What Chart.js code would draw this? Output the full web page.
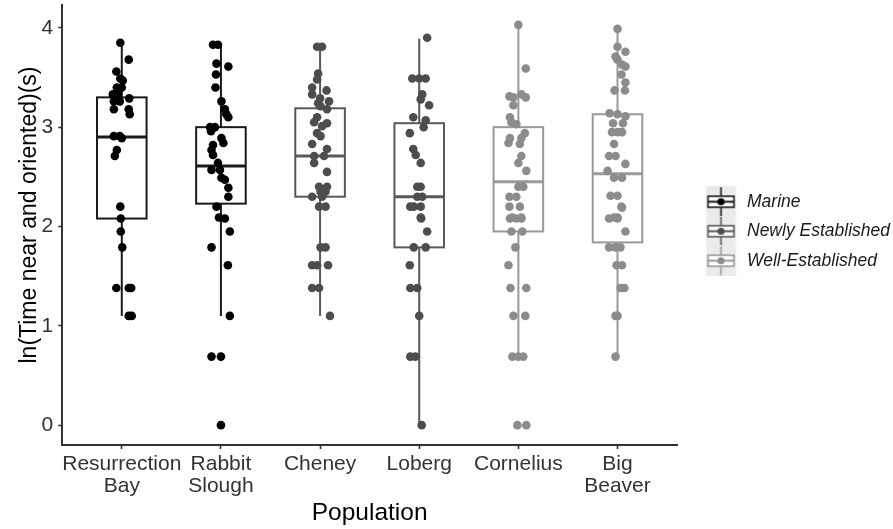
<!DOCTYPE html>
<html>
<head>
<meta charset="utf-8">
<script src="https://cdn.jsdelivr.net/npm/chart.js@4/dist/chart.umd.min.js"></script>
<style>
html,body{margin:0;padding:0;background:#fff;}
#wrap{width:893px;height:529px;}
</style>
</head>
<body>
<div id="wrap"><canvas id="c" width="893" height="529"></canvas></div>
<script>
// ---- data ----
const categories = ['Resurrection Bay', 'Rabbit Slough', 'Cheney', 'Loberg', 'Cornelius', 'Big Beaver'];
const groups = ['Marine', 'Marine', 'Newly Established', 'Newly Established', 'Well-Established', 'Well-Established'];
const groupNames = ['Marine', 'Newly Established', 'Well-Established'];
const yTicks = [0, 1, 2, 3, 4];
const yTitle = 'ln(Time near and oriented)(s)';
const xTitle = 'Population';

// box statistics
const q1 = [2.08, 2.23, 2.30, 1.79, 1.95, 1.84];
const median = [2.90, 2.61, 2.71, 2.30, 2.45, 2.53];
const q3 = [3.30, 3.00, 3.19, 3.04, 3.00, 3.13];
const whiskerLow = [1.10, 1.10, 1.10, 0.00, 0.69, 0.69];
const whiskerHigh = [3.85, 3.83, 3.81, 3.89, 4.03, 3.99];

// individual observations per population
const rbValues = [3.85,3.68,3.56,3.49,3.47,3.40,3.40,3.33,3.33,3.29,3.26,3.26,3.18,3.18,3.13,2.91,2.91,2.89,2.77,2.71,2.20,2.08,1.95,1.79,1.38,1.38,1.38,1.10,1.10];
const rsValues = [3.83,3.83,3.64,3.61,3.53,3.40,3.26,3.18,3.13,3.10,3.00,3.00,2.96,2.89,2.84,2.82,2.77,2.72,2.64,2.57,2.57,2.49,2.47,2.39,2.30,2.20,2.09,2.08,1.95,1.79,1.61,1.10,0.69,0.69,0];
const chValues = [3.81,3.81,3.54,3.48,3.40,3.37,3.33,3.29,3.26,3.24,3.21,3.18,3.10,3.05,3.04,3.01,2.94,2.91,2.83,2.78,2.71,2.71,2.64,2.55,2.40,2.40,2.35,2.35,2.30,2.30,2.20,2.20,1.79,1.79,1.61,1.61,1.61,1.38,1.38,1.10];
const loValues = [3.90,3.49,3.49,3.49,3.33,3.28,3.22,3.10,3.07,3.00,2.94,2.78,2.72,2.64,2.40,2.40,2.30,2.30,2.20,2.20,2.20,2.09,2.08,1.95,1.79,1.79,1.61,1.38,1.38,1.10,0.69,0.69,0];
const coValues = [4.03,3.59,3.31,3.30,3.33,3.30,3.22,3.10,3.05,3.03,2.94,2.89,2.89,2.84,2.83,2.71,2.64,2.56,2.40,2.40,2.30,2.30,2.20,2.20,2.09,2.09,2.08,2.08,2.08,1.95,1.95,1.79,1.61,1.38,1.38,1.10,1.10,0.69,0.69,0.69,0,0];
const bbValues = [3.99,3.81,3.76,3.71,3.68,3.63,3.61,3.53,3.45,3.37,3.37,3.14,3.13,3.11,3.04,3.04,2.95,2.95,2.95,2.83,2.71,2.71,2.63,2.56,2.49,2.49,2.31,2.31,2.19,2.09,2.09,2.20,2.08,2.08,1.95,1.79,1.79,1.79,1.61,1.61,1.38,1.38,1.10,1.10,0.69];

// horizontal jitter offsets (category units)
const rbJitter = [-0.015,0.07,-0.055,-0.015,0.01,-0.05,0.0,-0.09,-0.04,0.075,-0.08,-0.02,-0.08,0.07,0.08,-0.08,-0.02,0.0,-0.05,-0.07,-0.015,-0.01,-0.01,0.005,-0.055,0.07,0.095,0.07,0.1];
const rsJitter = [-0.08,-0.03,-0.045,0.075,-0.05,-0.055,0.005,0.04,0.055,0.075,-0.11,-0.06,-0.10,0.005,0.025,-0.08,-0.095,-0.08,-0.03,-0.095,-0.01,0.005,0.04,0.075,0.075,-0.045,-0.02,0.04,0.09,-0.095,0.07,0.09,-0.095,0.0,0.0];
const chJitter = [-0.03,0.02,-0.02,-0.03,-0.08,0.065,-0.08,0.0,0.09,-0.02,0.005,0.07,-0.03,-0.06,0.07,0.02,-0.03,0.005,-0.08,0.07,-0.06,0.04,-0.06,0.07,-0.01,0.07,0.005,0.055,-0.08,0.02,-0.01,0.055,0.005,0.055,-0.08,-0.03,0.08,-0.08,-0.01,0.1];
const loJitter = [0.08,-0.07,0.0,0.065,0.03,0.015,0.1,-0.06,0.065,0.045,-0.095,-0.06,-0.035,0.015,-0.02,0.015,-0.02,0.03,-0.09,-0.055,0.015,0.015,0.02,0.08,-0.055,0.065,-0.095,-0.09,-0.02,0.0,-0.09,-0.04,0.025];
const coJitter = [0.0,0.075,-0.09,-0.05,0.03,0.075,-0.05,-0.085,-0.07,-0.02,0.065,0.03,-0.085,-0.1,0.015,0.03,0.0,0.08,0.0,0.05,-0.09,-0.02,-0.09,0.015,-0.06,0.03,-0.085,-0.02,0.03,-0.07,0.04,-0.03,-0.1,-0.08,0.08,-0.05,0.07,-0.06,0.0,0.05,-0.01,0.08];
const bbJitter = [0.0,0.0,0.08,-0.02,0.0,0.045,0.08,0.04,0.08,-0.03,0.075,-0.08,0.0,0.08,-0.045,0.055,-0.055,0.0,0.045,-0.035,-0.085,-0.02,0.08,-0.1,-0.035,0.045,-0.07,0.0,0.045,-0.035,0.0,0.04,-0.085,0.0,0.08,-0.085,-0.02,0.03,-0.01,0.045,0.03,0.07,-0.02,0.0,-0.02];

const allValues = [rbValues, rsValues, chValues, loValues, coValues, bbValues];
const allJitter = [rbJitter, rsJitter, chJitter, loJitter, coJitter, bbJitter];

// ---- styles ----
const FONT = "'Liberation Sans', Arial, Helvetica, sans-serif";
const pointColors = {'Marine': '#000000', 'Newly Established': '#4d4d4d', 'Well-Established': '#8c8c8c'};
const lineColors = {'Marine': '#1a1a1a', 'Newly Established': '#595959', 'Well-Established': '#999999'};
const BOX_HALF = 0.25;

// ---- datasets ----
const datasets = categories.map((cat, i) => ({
  label: cat,
  data: allValues[i].map((v, k) => ({x: i + 1 + allJitter[i][k], y: v})),
  backgroundColor: pointColors[groups[i]],
  borderWidth: 0,
  pointRadius: 4.3,
  pointHoverRadius: 4.3
}));

// legend glyphs (boxplot keys)
function makeKey(group) {
  const cv = document.createElement('canvas');
  cv.width = 60; cv.height = 31;
  const g = cv.getContext('2d');
  const cx = 37.4, cy = 15.5;
  g.fillStyle = '#ebebeb';
  g.fillRect(cx - 15, 0, 30, 31);
  g.strokeStyle = lineColors[group];
  g.lineWidth = 1.6;
  g.beginPath(); g.moveTo(cx, 1); g.lineTo(cx, cy - 5.5); g.moveTo(cx, cy + 5.5); g.lineTo(cx, 30); g.stroke();
  g.fillStyle = '#ffffff';
  g.fillRect(cx - 13, cy - 5.5, 26, 11);
  g.strokeRect(cx - 13, cy - 5.5, 26, 11);
  g.beginPath(); g.moveTo(cx - 13, cy); g.lineTo(cx + 13, cy); g.lineWidth = 2; g.stroke();
  g.fillStyle = pointColors[group];
  g.beginPath(); g.arc(cx, cy, 3.6, 0, Math.PI * 2); g.fill();
  return cv;
}
const keyImages = groupNames.map(makeKey);

// boxplot drawing through the chart scales
const boxPlugin = {
  id: 'boxes',
  beforeDatasetsDraw(chart) {
    const {ctx, scales: {x, y}} = chart;
    ctx.save();
    categories.forEach((cat, i) => {
      const col = lineColors[groups[i]];
      const xc = x.getPixelForValue(i + 1);
      const xl = x.getPixelForValue(i + 1 - BOX_HALF);
      const xr = x.getPixelForValue(i + 1 + BOX_HALF);
      const yq1 = y.getPixelForValue(q1[i]);
      const yq3 = y.getPixelForValue(q3[i]);
      const ymed = y.getPixelForValue(median[i]);
      const ylo = y.getPixelForValue(whiskerLow[i]);
      const yhi = y.getPixelForValue(whiskerHigh[i]);
      ctx.strokeStyle = col;
      ctx.lineWidth = 2;
      ctx.beginPath();
      ctx.moveTo(xc, yhi); ctx.lineTo(xc, yq3);
      ctx.moveTo(xc, yq1); ctx.lineTo(xc, ylo);
      ctx.stroke();
      ctx.fillStyle = '#ffffff';
      ctx.fillRect(xl, yq3, xr - xl, yq1 - yq3);
      ctx.strokeRect(xl, yq3, xr - xl, yq1 - yq3);
      ctx.lineWidth = 3;
      ctx.beginPath(); ctx.moveTo(xl, ymed); ctx.lineTo(xr, ymed); ctx.stroke();
    });
    ctx.restore();
  }
};

// y-axis title (drawn slightly above the panel centre, as in the original)
const yTitlePlugin = {
  id: 'yTitle',
  afterDraw(chart) {
    const {ctx, chartArea} = chart;
    ctx.save();
    ctx.translate(29.3, (chartArea.top + chartArea.bottom) / 2 - 10);
    ctx.rotate(-Math.PI / 2);
    ctx.font = '23px ' + FONT;
    ctx.fillStyle = '#000000';
    ctx.textAlign = 'center';
    ctx.textBaseline = 'middle';
    ctx.fillText(yTitle, 0, 0);
    ctx.restore();
  }
};

function noScalePadding(s) {
  s.paddingTop = 0; s.paddingBottom = 0; s.paddingLeft = 0; s.paddingRight = 0;
}

new Chart(document.getElementById('c'), {
  type: 'scatter',
  data: {datasets},
  plugins: [boxPlugin, yTitlePlugin],
  options: {
    responsive: false,
    animation: false,
    devicePixelRatio: 1,
    layout: {padding: {top: 5, right: 0, bottom: 0, left: 0}},
    plugins: {
      tooltip: {enabled: false},
      legend: {
        position: 'right',
        fullSize: false,
        maxWidth: 216,
        title: {display: true, text: '', padding: 0, font: {size: 10, lineHeight: 1.25}},
        labels: {
          usePointStyle: true,
          pointStyleWidth: 49.25,
          padding: 12,
          color: '#1a1a1a',
          font: {family: FONT, size: 17.5, style: 'italic'},
          generateLabels: () => groupNames.map((g, k) => ({
            text: g,
            pointStyle: keyImages[k],
            fillStyle: pointColors[g],
            strokeStyle: lineColors[g],
            lineWidth: 0,
            fontColor: '#1a1a1a',
            hidden: false
          }))
        },
        onClick: () => {}
      }
    },
    scales: {
      x: {
        type: 'linear',
        min: 0.4,
        max: 6.6,
        afterBuildTicks: (s) => { s.ticks = categories.map((c, i) => ({value: i + 1})); },
        afterFit: (s) => { s.height = 84; noScalePadding(s); },
        grid: {display: true, drawOnChartArea: false, drawTicks: true, tickLength: 4, tickColor: '#333333', tickWidth: 1.6},
        border: {display: true, color: '#333333', width: 2},
        ticks: {
          autoSkip: false, maxRotation: 0, minRotation: 0, padding: 4.4,
          color: '#333333',
          font: {family: FONT, size: 21, lineHeight: 1.05},
          callback: (v) => categories[v - 1].split(' ')
        },
        title: {display: true, text: xTitle, color: '#000000', padding: {top: 0, bottom: 1.2}, font: {family: FONT, size: 24.5}}
      },
      y: {
        type: 'linear',
        min: -0.2,
        max: 4.23,
        afterBuildTicks: (s) => { s.ticks = yTicks.map(v => ({value: v})); },
        afterFit: (s) => { s.width = 62.3; noScalePadding(s); },
        grid: {display: true, drawOnChartArea: false, drawTicks: true, tickLength: 4, tickColor: '#333333', tickWidth: 1.6},
        border: {display: true, color: '#333333', width: 2},
        ticks: {
          padding: 5,
          color: '#333333',
          font: {family: FONT, size: 21},
          callback: (v) => String(v)
        },
        title: {display: false}
      }
    }
  }
});
</script>
</body>
</html>
